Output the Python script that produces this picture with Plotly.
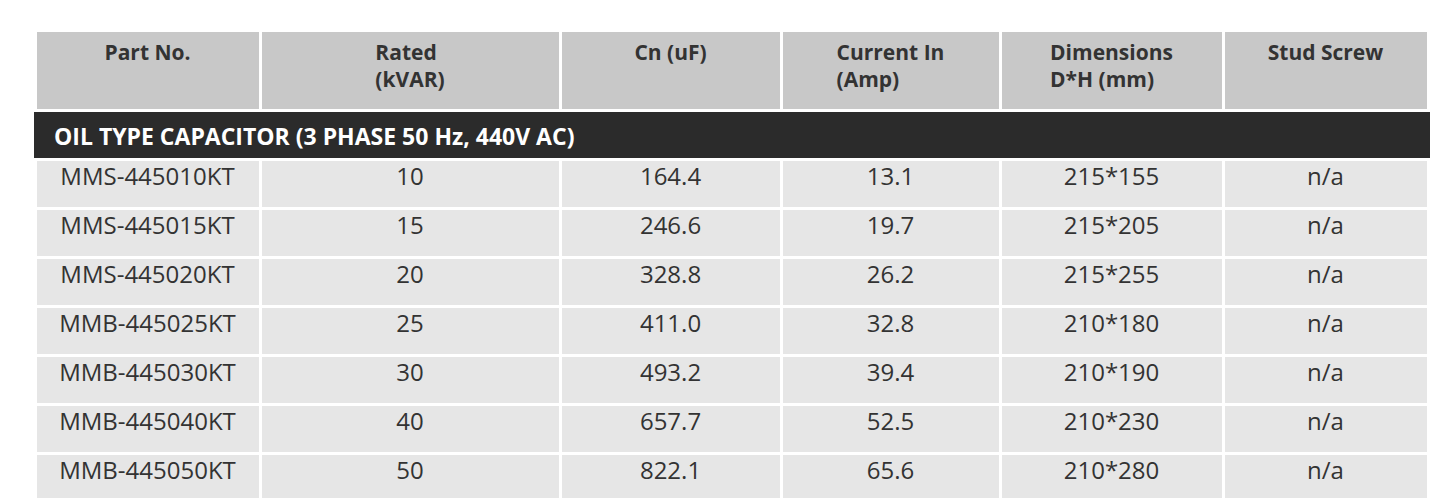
import plotly.graph_objects as go

headers = ["<b>Part No.</b>", "<b>Rated<br>(kVAR)</b>", "<b>Cn (uF)</b>",
           "<b>Current In<br>(Amp)</b>", "<b>Dimensions<br>D*H (mm)</b>", "<b>Stud Screw</b>"]
section = "<b>OIL TYPE CAPACITOR (3 PHASE 50 Hz, 440V AC)</b>"
part_no = ["MMS-445010KT", "MMS-445015KT", "MMS-445020KT", "MMB-445025KT",
           "MMB-445030KT", "MMB-445040KT", "MMB-445050KT"]
rated = ["10", "15", "20", "25", "30", "40", "50"]
cn = ["164.4", "246.6", "328.8", "411.0", "493.2", "657.7", "822.1"]
current = ["13.1", "19.7", "26.2", "32.8", "39.4", "52.5", "65.6"]
dims = ["215*155", "215*205", "215*255", "210*180", "210*190", "210*230", "210*280"]
stud = ["n/a"] * 7

cols = [[""] + part_no, [""] + rated, [""] + cn,
        [""] + current, [""] + dims, [""] + stud]
dark, light = "#2b2b2b", "#e6e6e6"
fills = [[dark] + [light] * 7 for _ in cols]
lines = [[dark] + ["white"] * 7 for _ in cols]

fig = go.Figure(go.Table(
    domain=dict(x=[27 / 1447, 1420 / 1447], y=[0, 1 - 22 / 498]),
    columnwidth=[225, 300, 221, 219, 223, 205],
    header=dict(values=headers, fill_color="#c8c8c8", line=dict(color="white", width=3),
                font=dict(family="Open Sans", size=21, color="#333333"),
                align="center", height=80),
    cells=dict(values=cols, fill_color=fills, line=dict(color=lines, width=3),
               font=dict(family="Open Sans", size=24, color="#333333"),
               align="center", height=49),
))
fig.add_annotation(text=section, xref="paper", yref="paper", x=44 / 1447, y=1 - 128 / 498,
                   xanchor="left", yanchor="middle", showarrow=False,
                   font=dict(family="Open Sans", size=23, color="white"))
fig.update_layout(width=1447, height=498, margin=dict(l=0, r=0, t=0, b=0),
                  paper_bgcolor="white")
fig.write_html("out.html")
